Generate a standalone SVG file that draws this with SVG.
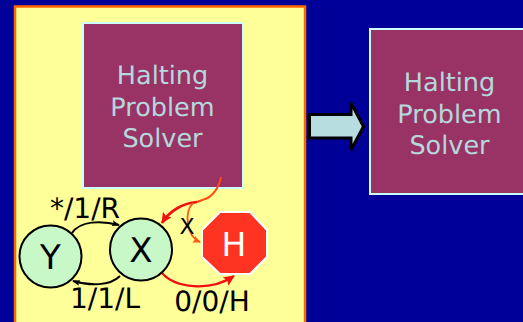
<svg xmlns="http://www.w3.org/2000/svg" width="523" height="322" viewBox="0 0 523 322">
<defs>
<marker id="ab" markerWidth="8" markerHeight="6" refX="7" refY="3" orient="auto" markerUnits="userSpaceOnUse"><path d="M0 0L8 3L0 6L1.500 3Z" fill="#000"/></marker>
<marker id="ar" markerWidth="11" markerHeight="10" refX="10" refY="5" orient="auto" markerUnits="userSpaceOnUse"><path d="M0 0L11 5L0 10L2 5Z" fill="#f01010"/></marker>
<marker id="ao" markerWidth="8" markerHeight="7" refX="7" refY="3.500" orient="auto" markerUnits="userSpaceOnUse"><path d="M0 0L8 3.500L0 7L1.500 3.500Z" fill="#ff5a14"/></marker>
</defs>
<style>
text{font-family:"DejaVu Sans",Verdana,sans-serif;text-anchor:middle;text-rendering:geometricPrecision}
.solver{fill:#993366;stroke:#ccffff;stroke-width:2}
.solverText{fill:#b5d8dc;font-size:25.500px}
.state{fill:#c8f8c8;stroke:#000;stroke-width:2}
.stateText{fill:#000;font-size:34px}
.lbl{fill:#000;font-size:28px}
.cb{fill:none;stroke:#000;stroke-width:2}
</style>
<rect width="523" height="322" fill="#000099"/>
<g id="frame"><rect x="15" y="6.500" width="290" height="330" fill="#ffff99" stroke="#ff6600" stroke-width="2.500"/></g>
<g id="solver-inner">
<rect class="solver" x="83" y="23" width="160" height="165"/>
<text class="solverText" x="162.500" y="84">Halting</text>
<text class="solverText" x="162.500" y="116">Problem</text>
<text class="solverText" x="162.500" y="147">Solver</text>
</g>
<g id="solver-outer">
<rect class="solver" x="370" y="29" width="240" height="165"/>
<text class="solverText" x="449.500" y="91">Halting</text>
<text class="solverText" x="449.500" y="123">Problem</text>
<text class="solverText" x="449.500" y="154">Solver</text>
</g>
<g id="big-arrow"><polygon points="309.500,114.500 351,114.500 351,103 363.500,126.500 351,150 351,138 309.500,138" fill="#b8dde0" stroke="#000" stroke-width="3"/></g>
<g id="connectors">
<path class="cb" d="M72 233C80 221 100 220 119 225" marker-end="url(#ab)"/>
<path class="cb" d="M120 276C110 286 90 286 73 281" marker-end="url(#ab)"/>
<path d="M162 273C175 288 210 292 234 276" fill="none" stroke="#f01010" stroke-width="2.200" marker-end="url(#ar)"/>
<path d="M197 202C184 203 170 210 162 223" fill="none" stroke="#f01010" stroke-width="2.600" marker-end="url(#ar)"/>
<path d="M221 177C219 188 212 197 205 199C202 200 200 201 197 202" fill="none" stroke="#ff4a14" stroke-width="2"/>
<path d="M193 203C184 212 186 236 200 242" fill="none" stroke="#ff5a14" stroke-width="1.800" marker-end="url(#ao)"/>
</g>
<g id="state-y"><circle class="state" cx="50.500" cy="256.500" r="31"/><text class="stateText" x="50.500" y="269">Y</text></g>
<g id="state-x"><circle class="state" cx="141" cy="249.500" r="31"/><text class="stateText" x="141" y="262">X</text></g>
<g id="state-h"><polygon points="220,212 250,212 267,230 267,257 250,274 220,274 202,257 202,230" fill="#ff3322" stroke="#fff" stroke-width="2"/><text x="234" y="256" font-size="33" fill="#fff">H</text></g>
<g id="labels">
<text class="lbl" x="85" y="218">*/1/R</text>
<text class="lbl" x="105" y="308">1/1/L</text>
<text class="lbl" x="212" y="311">0/0/H</text>
<text x="187" y="234" font-size="22" fill="#000">X</text>
</g>
</svg>
